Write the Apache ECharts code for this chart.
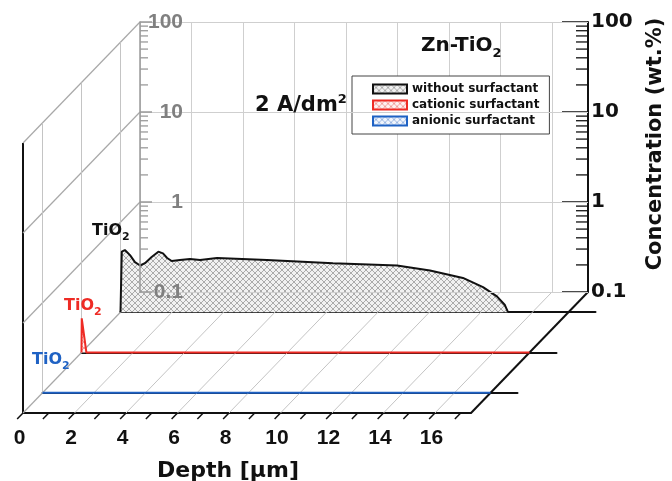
<!DOCTYPE html>
<html><head><meta charset="utf-8">
<script src="https://cdn.jsdelivr.net/npm/echarts@6/dist/echarts.min.js"></script>
<style>html,body{margin:0;padding:0;background:#fff}#c{width:672px;height:481px}</style>
</head><body><div id="c"></div>
<script>
// ---------------- data ----------------
const depthTicks = [0, 2, 4, 6, 8, 10, 12, 14, 16];
const concTicks = [0.1, 1, 10, 100];
const seriesNames = ['without surfactant', 'cationic surfactant', 'anionic surfactant'];
const withoutDepth = [0, 0.05, 0.17, 0.37, 0.56, 0.76, 0.95, 1.21, 1.47, 1.65, 1.81, 1.99, 2.31, 2.70, 3.09, 3.75, 5.69, 8.25, 10.74, 12.02, 13.3, 14.08, 14.62, 14.93, 15.05];
const withoutConc  = [0.1, 0.47, 0.49, 0.43, 0.36, 0.33, 0.35, 0.41, 0.47, 0.45, 0.40, 0.37, 0.38, 0.39, 0.38, 0.40, 0.38, 0.35, 0.33, 0.29, 0.24, 0.19, 0.15, 0.12, 0.1];
const cationicDepth = [0, 0.01, 0.19, 17.4];
const cationicConc  = [0.1, 0.24, 0.1, 0.1];
const anionicDepth = [0, 17.4];
const anionicConc  = [0.1, 0.1];

// ---------------- layout / style ----------------
const XMAX = 17.4;
const FX = 23, FY = 413, W = 448, H = 270, DX = 117, DY = -121, EXT = 27;
const LAYER_Z = [5 / 6, 1 / 2, 1 / 6];
const COLORS = ['#111111', '#ee2b25', '#1f62c4'];
const HATCH = [['#999999', '#f1f1f1'], ['#f08a86', '#fdf1f1'], ['#86a8dc', '#f1f5fc']];
const FONT = 'Liberation Sans';
const WFONT = 'DejaVu Sans';

function hatch(line, bg) {
  const c = document.createElement('canvas');
  c.width = 6; c.height = 6;
  const g = c.getContext('2d');
  g.fillStyle = bg; g.fillRect(0, 0, 6, 6);
  g.strokeStyle = line; g.lineWidth = 0.8;
  g.beginPath();
  g.moveTo(0, 0); g.lineTo(6, 6);
  g.moveTo(6, 0); g.lineTo(0, 6);
  g.stroke();
  return { image: c, repeat: 'repeat' };
}
const patterns = HATCH.map(h => hatch(h[0], h[1]));

const zip = (a, b) => a.map((v, i) => [v, b[i]]);
const fmtLog = v => String(+(+v).toPrecision(3));

// frame segments in (depth, conc, z) space
const FRAME_STYLES = [
  { c: '#111', w: 2 },      // 0 black edge
  { c: '#a8a8a8', w: 1.2 }, // 1 wall diagonals
  { c: '#c4c4c4', w: 1 },   // 2 light grid
  { c: '#111', w: 1.5 }     // 3 front ticks
];
const frameSegs = [];
frameSegs.push([0, 0.1, 0, 0, 100, 0, 0]);
concTicks.forEach(v => frameSegs.push([0, v, 0, 0, v, 1, 1]));
LAYER_Z.forEach(z => frameSegs.push([0, 0.1, z, 0, 100, z, 2]));
depthTicks.filter(d => d > 0).forEach(d => frameSegs.push([d, 0.1, 0, d, 0.1, 1, 2]));
for (let d = 0; d <= Math.floor(XMAX); d++) frameSegs.push([d, 0.1, 0, d, 0.1, -0.05, 3]);
frameSegs.push([XMAX, 0.1, 0, XMAX, 0.1, 1, 0]);

const minorVals = [];
[0.1, 1, 10].forEach(b => { for (let m = 2; m <= 9; m++) minorVals.push([0, +(b * m).toPrecision(3)]); });

// grids: 0 back wall, 1-3 layers, 4 front
const grids = [{ left: FX + DX, top: FY + DY - H, width: W, height: H, outerBoundsMode: 'none' }];
LAYER_Z.forEach(z => grids.push({ left: FX + DX * z, top: FY + DY * z - H, width: W + EXT, height: H, outerBoundsMode: 'none' }));
grids.push({ left: FX, top: FY - H, width: W, height: H, outerBoundsMode: 'none' });

const xAxes = [
  { gridIndex: 0, type: 'value', min: 0, max: XMAX, interval: 2,
    axisLine: { show: false }, axisTick: { show: false }, axisLabel: { show: false },
    splitLine: { show: true, lineStyle: { color: '#cfcfcf', width: 1 } } }
];
LAYER_Z.forEach((z, i) => xAxes.push({
  gridIndex: i + 1, type: 'value', min: 0, max: XMAX * (W + EXT) / W,
  axisLine: { onZero: false, lineStyle: { color: '#111', width: 2 } },
  axisTick: { show: false }, axisLabel: { show: false }, splitLine: { show: false }
}));
xAxes.push({
  gridIndex: 4, type: 'value', min: 0, max: XMAX, interval: 2,
  axisLine: { onZero: false, lineStyle: { color: '#111', width: 2 } },
  axisTick: { show: false }, splitLine: { show: false },
  axisLabel: { formatter: v => depthTicks.includes(v) ? String(v) : '', fontSize: 21, fontWeight: 'bold',
    color: '#111', fontFamily: FONT, margin: 15, padding: [0, 7, 0, 0] },
  name: 'Depth [μm]', nameLocation: 'middle', nameGap: 47,
  nameTextStyle: { fontSize: 22, fontWeight: 'bold', color: '#111', fontFamily: WFONT, padding: [0, 38, 0, 0] }
});

const yAxes = [
  { gridIndex: 0, type: 'log', logBase: 10, min: 0.1, max: 100, interval: 1, position: 'left', z: 4,
    axisLine: { show: true, lineStyle: { color: '#9a9a9a', width: 1.5 } },
    axisTick: { show: true, inside: true, length: 12, lineStyle: { color: '#9a9a9a', width: 1.5 } },
    axisLabel: { inside: true, align: 'right', margin: 43, color: '#808080', fontWeight: 'bold',
      fontSize: 21, fontFamily: FONT, formatter: fmtLog },
    splitLine: { show: true, lineStyle: { color: '#cfcfcf', width: 1 } } },
  { gridIndex: 0, type: 'log', logBase: 10, min: 0.1, max: 100, interval: 1, position: 'right',
    axisLine: { show: true, lineStyle: { color: '#111', width: 2 } },
    axisTick: { show: true, inside: true, length: 26, lineStyle: { color: '#111', width: 1.5 } },
    axisLabel: { margin: 3, color: '#111', fontWeight: 'bold', fontSize: 20, fontFamily: WFONT, formatter: fmtLog },
    splitLine: { show: false } }
];
LAYER_Z.forEach((z, i) => yAxes.push({ gridIndex: i + 1, type: 'log', min: 0.1, max: 100, interval: 1, show: false }));
yAxes.push({ gridIndex: 4, type: 'log', min: 0.1, max: 100, interval: 1, show: false });

const layerData = [zip(withoutDepth, withoutConc), zip(cationicDepth, cationicConc), zip(anionicDepth, anionicConc)];
const layerSeries = layerData.map((d, i) => ({
  type: 'line', name: seriesNames[i], xAxisIndex: i + 1, yAxisIndex: i + 2, data: d,
  symbol: 'none', clip: false, z: 3, silent: true,
  lineStyle: { color: COLORS[i], width: 2 }, itemStyle: { color: COLORS[i] },
  areaStyle: { color: patterns[i], opacity: 1, origin: 'start' }
}));

function tio(x, y, color) {
  return { type: 'text', x: x, y: y, z: 10, style: {
    text: '{a|TiO}{s|2}', fill: color,
    rich: { a: { fontSize: 16, fontWeight: 'bold', fontFamily: WFONT, fill: color, lineHeight: 24 },
            s: { fontSize: 11, fontWeight: 'bold', fontFamily: WFONT, fill: color, lineHeight: 11, verticalAlign: 'bottom' } } } };
}

const option = {
  backgroundColor: '#fff',
  animation: false,
  grid: grids,
  xAxis: xAxes,
  yAxis: yAxes,
  legend: {
    orient: 'vertical', left: 352, top: 76, icon: 'rect', itemWidth: 34, itemHeight: 9, itemGap: 4,
    borderColor: '#444', borderWidth: 1, padding: [7, 10, 7, 20], selectedMode: false,
    backgroundColor: '#fff',
    textStyle: { fontSize: 12, fontWeight: 'bold', color: '#111', fontFamily: WFONT },
    data: seriesNames.map((n, i) => ({ name: n, itemStyle: { color: patterns[i], borderColor: COLORS[i], borderWidth: 2 } }))
  },
  graphic: [
    { type: 'text', x: 421, y: 32, z: 10, style: { text: '{a|Zn-TiO}{s|2}',
      rich: { a: { fontSize: 20, fontWeight: 'bold', fontFamily: WFONT, fill: '#111', lineHeight: 28 },
              s: { fontSize: 13, fontWeight: 'bold', fontFamily: WFONT, fill: '#111', lineHeight: 13, verticalAlign: 'bottom' } } } },
    { type: 'text', x: 255, y: 93, z: 10, style: { text: '{a|2 A/dm}{s|2}',
      rich: { a: { fontSize: 21, fontWeight: 'bold', fontFamily: WFONT, fill: '#111', lineHeight: 26 },
              s: { fontSize: 13, fontWeight: 'bold', fontFamily: WFONT, fill: '#111', lineHeight: 13, verticalAlign: 'top' } } } },
    { type: 'text', x: 656, y: 144, rotation: Math.PI / 2, z: 10,
      style: { text: 'Concentration (wt.%)', fontSize: 21, fontWeight: 'bold', fontFamily: WFONT, fill: '#111',
               align: 'center', verticalAlign: 'middle' } },
    tio(92, 219, COLORS[0]),
    tio(64, 294, COLORS[1]),
    tio(32, 348, COLORS[2])
  ],
  series: [
    { type: 'custom', xAxisIndex: 4, yAxisIndex: 5, z: 1, silent: true, data: frameSegs,
      dimensions: ['x1', 'y1', 'z1', 'x2', 'y2', 'z2', 'k'], encode: { x: 0, y: 1 },
      renderItem: (params, api) => {
        const a = api.coord([api.value(0), api.value(1)]);
        const b = api.coord([api.value(3), api.value(4)]);
        const za = api.value(2), zb = api.value(5);
        const st = FRAME_STYLES[api.value(6)];
        return { type: 'line', shape: { x1: a[0] + DX * za, y1: a[1] + DY * za, x2: b[0] + DX * zb, y2: b[1] + DY * zb },
                 style: { stroke: st.c, lineWidth: st.w } };
      } },
    { type: 'custom', xAxisIndex: 0, yAxisIndex: 0, z: 1, silent: true, data: minorVals,
      renderItem: (params, api) => {
        const p = api.coord([0, api.value(1)]);
        const q = api.coord([XMAX, api.value(1)]);
        return { type: 'group', children: [
          { type: 'line', shape: { x1: p[0], y1: p[1], x2: p[0] + 8, y2: p[1] }, style: { stroke: '#9a9a9a', lineWidth: 1.3 } },
          { type: 'line', shape: { x1: q[0] - 12, y1: q[1], x2: q[0], y2: q[1] }, style: { stroke: '#111', lineWidth: 1.3 } }
        ] };
      } }
  ].concat(layerSeries)
};

const chart = echarts.init(document.getElementById('c'), null, { renderer: 'canvas' });
chart.setOption(option);
</script>
</body></html>
